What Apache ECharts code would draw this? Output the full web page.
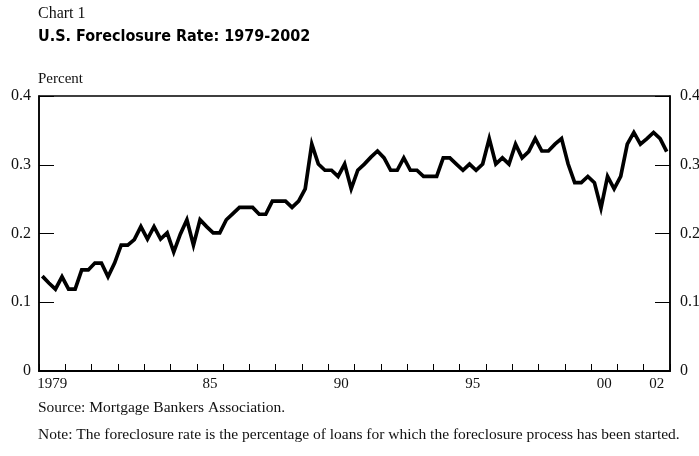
<!DOCTYPE html>
<html>
<head>
<meta charset="utf-8">
<script src="https://cdn.jsdelivr.net/npm/echarts@6/dist/echarts.min.js"></script>
<style>
html,body{margin:0;padding:0;background:#fff;}
#chart{width:699px;height:456px;}
</style>
</head>
<body>
<div id="chart"></div>
<script>
// Quarterly foreclosure rate, 1979Q1 - 2002Q4 (percent)
const startYear = 1979;
const endYear = 2002;
const rate = [
  0.138, 0.128, 0.119, 0.137, 0.119, 0.119, 0.147, 0.147,   // 1979-1980
  0.157, 0.157, 0.137, 0.157, 0.183, 0.183, 0.191, 0.210,   // 1981-1982
  0.192, 0.210, 0.192, 0.201, 0.173, 0.199, 0.220, 0.183,   // 1983-1984
  0.220, 0.210, 0.201, 0.201, 0.220, 0.229, 0.238, 0.238,   // 1985-1986
  0.238, 0.228, 0.228, 0.247, 0.247, 0.247, 0.238, 0.247,   // 1987-1988
  0.265, 0.330, 0.301, 0.292, 0.292, 0.283, 0.301, 0.265,   // 1989-1990
  0.292, 0.301, 0.311, 0.320, 0.310, 0.292, 0.292, 0.310,   // 1991-1992
  0.292, 0.292, 0.283, 0.283, 0.283, 0.310, 0.310, 0.301,   // 1993-1994
  0.292, 0.301, 0.292, 0.301, 0.338, 0.301, 0.310, 0.301,   // 1995-1996
  0.330, 0.310, 0.319, 0.338, 0.320, 0.320, 0.330, 0.338,   // 1997-1998
  0.301, 0.274, 0.274, 0.283, 0.274, 0.237, 0.283, 0.265,   // 1999-2000
  0.283, 0.330, 0.347, 0.330, 0.338, 0.347, 0.338, 0.319    // 2001-2002
];
const yTicks = [0, 0.1, 0.2, 0.3, 0.4];
const xLabelYears = [1979, 1985, 1990, 1995, 2000, 2002];
const xLabelText = ['1979', '85', '90', '95', '00', '02'];

const titleSmall = 'Chart 1';
const titleMain = 'U.S. Foreclosure Rate: 1979-2002';
const unitLabel = 'Percent';
const sourceText = 'Source: Mortgage Bankers Association.';
const noteText = 'Note: The foreclosure rate is the percentage of loans for which the foreclosure process has been started.';

// quarter index -> time position (mid-quarter)
const seriesData = rate.map((v, i) => [startYear + Math.floor(i / 4) + ((i % 4) + 0.5) / 4, v]);

const serif = '"Liberation Serif", "Times New Roman", serif';
const labelMap = {};
xLabelYears.forEach((y, k) => { labelMap[(y + 0.5).toFixed(1)] = xLabelText[k]; });

const chart = echarts.init(document.getElementById('chart'));
const yLabelFmt = v => (Math.abs(v) < 1e-9 ? '0' : v.toFixed(1));
const txt = (size, extra) => Object.assign({ fontFamily: serif, fontWeight: 'normal', fontSize: size, color: '#111' }, extra || {});
chart.setOption({
  animation: false,
  backgroundColor: '#fff',
  title: [
    { text: titleSmall, left: 38, top: 6, padding: 0, textStyle: txt(16) },
    { text: titleMain, left: 38, top: 29, padding: 0, textStyle: { fontFamily: '"DejaVu Sans Condensed", "Liberation Sans", sans-serif', fontWeight: 'bold', fontSize: 16, color: '#000' } },
    { text: unitLabel, left: 38, top: 72, padding: 0, textStyle: txt(15) },
    { text: sourceText, left: 38, top: 400, padding: 0, textStyle: txt(15.5) },
    { text: noteText, left: 38, top: 427, padding: 0, textStyle: txt(15.5) }
  ],
  grid: { left: 39, right: 29, top: 96, bottom: 85, outerBoundsMode: 'none', containLabel: false, show: true, borderColor: '#000', borderWidth: 1.5, backgroundColor: 'transparent' },
  xAxis: [
    {
      type: 'value', min: startYear, max: endYear + 1, interval: 1,
      axisLine: { show: true, onZero: false, lineStyle: { color: '#000', width: 2 } },
      axisTick: { show: true, inside: true, length: 7, lineStyle: { color: '#000', width: 1 } },
      axisLabel: { show: false },
      splitLine: { show: false }
    },
    {
      type: 'value', position: 'bottom', min: startYear, max: endYear + 1, interval: 0.5,
      axisLine: { show: false },
      axisTick: { show: false },
      splitLine: { show: false },
      axisLabel: {
        show: true, margin: 6, fontFamily: serif, fontSize: 15, color: '#111',
        formatter: v => labelMap[v.toFixed(1)] || ''
      }
    }
  ],
  yAxis: [
    {
      type: 'value', min: yTicks[0], max: yTicks[yTicks.length - 1], interval: 0.1, position: 'left',
      axisLine: { show: true, lineStyle: { color: '#000', width: 1.5 } },
      axisTick: { show: true, inside: true, length: 15, lineStyle: { color: '#000', width: 1 } },
      axisLabel: { margin: 8, fontFamily: serif, fontSize: 16, color: '#111', formatter: yLabelFmt },
      splitLine: { show: false }
    },
    {
      type: 'value', min: yTicks[0], max: yTicks[yTicks.length - 1], interval: 0.1, position: 'right',
      axisLine: { show: true, lineStyle: { color: '#000', width: 1.5 } },
      axisTick: { show: true, inside: true, length: 15, lineStyle: { color: '#000', width: 1 } },
      axisLabel: { margin: 10, fontFamily: serif, fontSize: 16, color: '#111', formatter: yLabelFmt },
      splitLine: { show: false }
    }
  ],
  series: [
    {
      type: 'line', xAxisIndex: 0, yAxisIndex: 0,
      data: seriesData, showSymbol: false, symbol: 'none',
      lineStyle: { color: '#000', width: 3.7, join: 'miter' },
      silent: true
    }
  ]
});
</script>
</body>
</html>
